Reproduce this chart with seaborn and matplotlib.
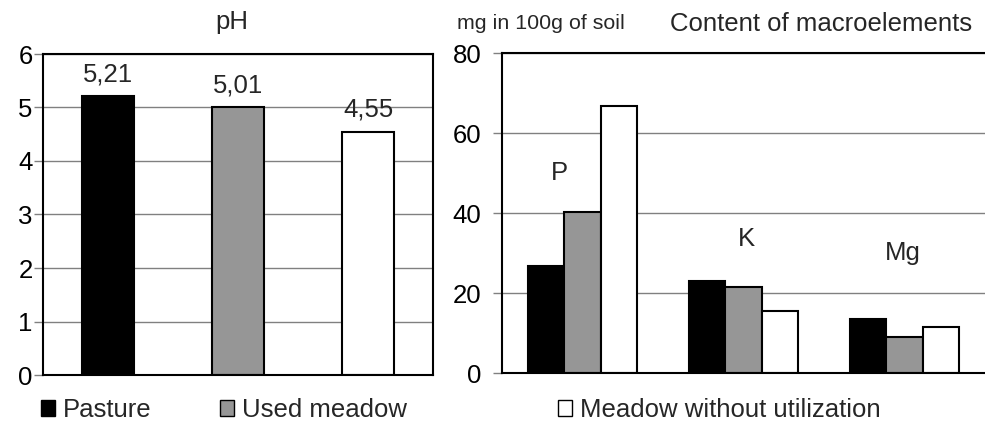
import matplotlib
matplotlib.use("Agg")
import matplotlib.pyplot as plt
from matplotlib.patches import Patch
import seaborn as sns
import pandas as pd

# ---- data ----
sites = ["Pasture", "Used meadow", "Meadow without utilization"]
ph_values = [5.21, 5.01, 4.55]
ph_labels = ["5,21", "5,01", "4,55"]
elements = ["P", "K", "Mg"]
macro_values = {
    "Pasture": [26.7, 23.1, 13.6],
    "Used meadow": [40.3, 21.6, 8.9],
    "Meadow without utilization": [66.8, 15.5, 11.5],
}
colors = ["#000000", "#969696", "#ffffff"]
ph_ticks = [0, 1, 2, 3, 4, 5, 6]
macro_ticks = [0, 20, 40, 60, 80]

# ---- style ----
sns.set_style("white")
plt.rcParams["font.family"] = ["Liberation Sans", "DejaVu Sans"]
FS = 18.5

W, H = 985, 423
fig = plt.figure(figsize=(W / 100, H / 100), dpi=100)

ax1 = fig.add_axes([43 / W, (H - 375) / H, 390 / W, 321 / H])
ax2 = fig.add_axes([502 / W, (H - 373) / H, (W - 502) / W, 320 / H])

palette = dict(zip(sites, colors))

df_ph = pd.DataFrame({"site": sites, "pH": ph_values})
sns.barplot(data=df_ph, x="site", y="pH", hue="site", palette=palette,
            width=0.4, edgecolor="black", linewidth=1.5, legend=False,
            saturation=1, ax=ax1)

rows = []
for s in sites:
    for e, v in zip(elements, macro_values[s]):
        rows.append({"site": s, "element": e, "value": v})
df_m = pd.DataFrame(rows)
sns.barplot(data=df_m, x="element", y="value", hue="site", hue_order=sites,
            order=elements, palette=palette, width=0.68, edgecolor="black",
            linewidth=1.5, legend=False, saturation=1, ax=ax2)

for ax, ticks, lim in [(ax1, ph_ticks, 6), (ax2, macro_ticks, 80)]:
    ax.set_ylim(0, lim)
    ax.set_xlim(-0.5, 2.5)
    ax.set_yticks(ticks)
    ax.set_xticks([])
    ax.set_xlabel("")
    ax.set_ylabel("")
    ax.yaxis.grid(True, color="#808080", linewidth=1)
    ax.set_axisbelow(True)
    for sp in ax.spines.values():
        sp.set_color("black")
        sp.set_linewidth(1.5)
    ax.tick_params(axis="y", left=True, length=6.5, width=1, color="#808080",
                   labelsize=FS, labelcolor="black")

ax1.tick_params(axis="y", pad=1)
ax2.tick_params(axis="y", pad=8.5)
ax2.spines["right"].set_visible(False)

# pH value labels
for cont, lab in zip(ax1.containers, ph_labels):
    ax1.bar_label(cont, labels=[lab], padding=7, fontsize=FS)

# element labels (layout positions)
elem_label_pos = [(-0.146, 49.9), (1.016, 33.6), (1.99, 30.0)]
for e, (x, y) in zip(elements, elem_label_pos):
    ax2.text(x, y, e, ha="center", va="center", fontsize=FS)

# titles
fig.text(232 / W, 1 - 29 / H, "pH", ha="center", va="baseline", fontsize=FS)
fig.text(457 / W, 1 - 29 / H, "mg in 100g of soil", ha="left",
         va="baseline", fontsize=15.4)
fig.text(670 / W, 1 - 31 / H, "Content of macroelements", ha="left",
         va="baseline", fontsize=FS)

# legends
leg_x = [41, 220, 558]
for s, c, x in zip(sites, colors, leg_x):
    h = Patch(facecolor=c, edgecolor="black", linewidth=1)
    fig.legend([h], [s], loc="center left", bbox_to_anchor=(x / W, 1 - 410 / H),
               frameon=False, fontsize=FS, borderpad=0, borderaxespad=0,
               handlelength=0.55, handleheight=0.55, handletextpad=0.32)

fig.savefig("out.png", dpi=100)
